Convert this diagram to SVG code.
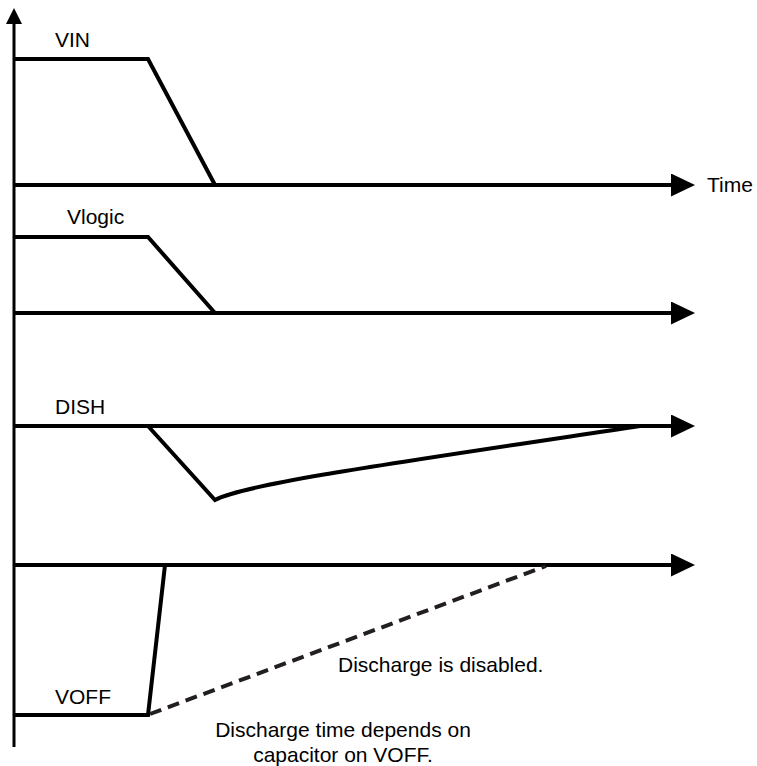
<svg xmlns="http://www.w3.org/2000/svg" width="757" height="766" viewBox="0 0 757 766">
<style>
.ln{stroke:#000;stroke-width:4;fill:none;stroke-linejoin:miter}
.ax{stroke:#000;stroke-width:3;fill:none}
.ds{stroke:#231f20;stroke-width:4;fill:none;stroke-dasharray:12,7}
text{font-family:"Liberation Sans",Arial,sans-serif;font-size:21px;fill:#000}
</style>
<defs>
<marker id="ah" markerUnits="userSpaceOnUse" markerWidth="24" markerHeight="23" refX="0" refY="11.5" orient="auto">
<path d="M0,0 L24,11.5 L0,23 Z" fill="#000"/>
</marker>
</defs>
<g id="connectors">
<line class="ax" x1="14" y1="22" x2="14" y2="747"/>
<path d="M14,8 L22,24 L6,24 Z" fill="#000"/>
<line class="ln" x1="14" y1="185" x2="671" y2="185" marker-end="url(#ah)"/>
<line class="ln" x1="14" y1="313" x2="671" y2="313" marker-end="url(#ah)"/>
<line class="ln" x1="14" y1="426" x2="671" y2="426" marker-end="url(#ah)"/>
<line class="ln" x1="14" y1="565" x2="671" y2="565" marker-end="url(#ah)"/>
</g>
<g id="vin">
<polyline class="ln" points="14,59 148,59 215,185"/>
<text x="55" y="47">VIN</text>
</g>
<g id="vlogic">
<polyline class="ln" points="14,237 148,237 215,313"/>
<text x="67" y="224">Vlogic</text>
</g>
<g id="dish">
<path class="ln" d="M148,426 L215,500 C245,484 380,465 640,426"/>
<text x="55" y="414">DISH</text>
</g>
<g id="voff">
<polyline class="ln" points="14,715 148,715 165,565"/>
<line class="ds" x1="150" y1="714" x2="546" y2="566"/>
<text x="55" y="704">VOFF</text>
</g>
<g id="time-label"><text x="707" y="192">Time</text></g>
<g id="notes">
<text x="338" y="672">Discharge is disabled.</text>
<text x="343" y="737" text-anchor="middle">Discharge time depends on</text>
<text x="343" y="762" text-anchor="middle">capacitor on VOFF.</text>
</g>
</svg>
